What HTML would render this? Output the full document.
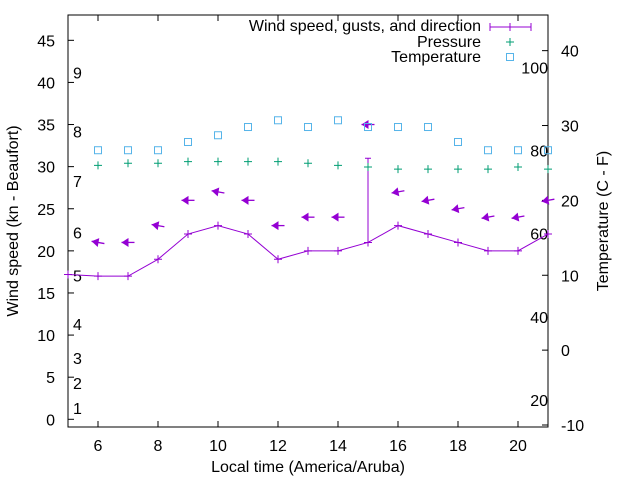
<!DOCTYPE html>
<html><head><meta charset="utf-8"><style>
html,body{margin:0;padding:0;background:#fff}
svg{display:block;font-family:"Liberation Sans",sans-serif}
</style></head><body>
<svg id="chart" width="640" height="480" viewBox="0 0 640 480">
<rect x="0" y="0" width="640" height="480" fill="#fff"/>
<g id="grid"></g>
<rect x="68" y="15" width="480" height="412" fill="none" stroke="#000" stroke-width="1"/>
<text x="0" y="0" transform="translate(18,221) rotate(-90)" text-anchor="middle" font-size="16">Wind speed (kn - Beaufort)</text>
<text x="0" y="0" transform="translate(608,221) rotate(-90)" text-anchor="middle" font-size="16">Temperature (C - F)</text>
<text x="308" y="472" text-anchor="middle" font-size="16">Local time (America/Aruba)</text>
<g>
<text x="481" y="31" text-anchor="end" font-size="16">Wind speed, gusts, and direction</text>
<line x1="490" y1="27" x2="531" y2="27" stroke="#9400d3"/>
<path d="M490 23V31M531 23V31M510 23V31" stroke="#9400d3"/>
<text x="481" y="47" text-anchor="end" font-size="16">Pressure</text>
<path d="M506 42H514M510 38V46" stroke="#009e73"/>
<text x="481" y="62" text-anchor="end" font-size="16">Temperature</text>
<rect x="506.5" y="53.5" width="7" height="7" fill="none" stroke="#56b4e9"/>
</g>
<g id="marks"></g>
</svg>
<script>
const hours = [5,6,7,8,9,10,11,12,13,14,15,16,17,18,19,20,21];
const windSpeed = [17.2,17,17,19,22,23,22,19,20,20,21,23,22,21,20,20,22];
const windGust = [17.2,17,17,19,22,23,22,19,20,20,31,23,22,21,20,20,22];
const windDir = [null,100,90,100,90,100,90,90,90,90,90,80,80,80,80,80,80];
const pressure = [null,30.15,30.4,30.4,30.6,30.6,30.6,30.6,30.4,30.15,29.95,29.7,29.7,29.7,29.7,29.95,29.7];
const tempC = [null,26.7,26.7,26.7,27.8,28.7,29.8,30.7,29.8,30.7,29.8,29.8,29.8,27.8,26.7,26.7,26.7];
const xTicks = [6,8,10,12,14,16,18,20];
const yTicks = [0,5,10,15,20,25,30,35,40,45];
const y2Ticks = [-10,0,10,20,30,40];
const fLabels = [20,40,60,80,100];
const beaufortNums = [1,2,3,4,5,6,7,8,9];
const beaufortPos = [1.35,4.3,7.3,11.3,17.1,22.2,28.3,34.2,41.2];

const NS='http://www.w3.org/2000/svg';
const X0=68,X1=548,Y0=427,Y1=15;
const xs=v=>X0+(v-5)/(21-5)*(X1-X0);
const ys=v=>419.3-v*8.422;
const y2s=v=>425-(v+10)*7.487;
const marks=document.getElementById('marks');
const grid=document.getElementById('grid');
function mk(tag,attrs,parent){const e=document.createElementNS(NS,tag);for(const k in attrs)e.setAttribute(k,attrs[k]);(parent||marks).appendChild(e);return e;}

xTicks.forEach(t=>{
  const x=xs(t);
  const g=mk('path',{d:`M${x} ${Y0}V${Y0-6}M${x} ${Y1}V${Y1+6}`,stroke:'#000'},grid);
  
  
  const l=mk('text',{x:x,y:451,'text-anchor':'middle','font-size':16},grid);
  l.textContent=t;
  
  
});
yTicks.forEach(t=>{
  const y=ys(t);
  const g=mk('path',{d:`M${X0} ${y}H${X0+6}`,stroke:'#000'},grid);
  
  
  const l=mk('text',{x:55,y:y+6,'text-anchor':'end','font-size':16},grid);
  l.textContent=t;
  
  
});
y2Ticks.forEach(t=>{
  const y=y2s(t);
  const g=mk('path',{d:`M${X1} ${y}H${X1-6}`,stroke:'#000'},grid);
  
  
  const l=mk('text',{x:561,y:y+6,'text-anchor':'start','font-size':16},grid);
  l.textContent=t;
  
  
});
fLabels.forEach(f=>{
  const l=mk('text',{x:548,y:y2s((f-32)*5/9)+6,'text-anchor':'end','font-size':16},grid);
  l.textContent=f;
  
  
});
beaufortNums.forEach((b,i)=>{
  const l=mk('text',{x:73,y:ys(beaufortPos[i])+6,'font-size':16},grid);
  l.textContent=b;
  
  
});

const pts=hours.map((h,i)=>xs(h)+','+ys(windSpeed[i])).join(' ');
const pl=mk('polyline',{points:pts,fill:'none',stroke:'#9400d3','stroke-width':1});


hours.forEach((h,i)=>{
  const x=xs(h),y=ys(windSpeed[i]);
  const p=mk('path',{d:`M${x-4} ${y}H${x+4}M${x} ${y-4}V${y+4}`,stroke:'#9400d3'});
  
  
  if(windGust[i]>windSpeed[i]){
    const gy=ys(windGust[i]);
    const g=mk('path',{d:`M${x} ${y}V${gy}M${x-3} ${gy}H${x+3}`,stroke:'#9400d3'});
    
    
  }
  if(windDir[i]==null)return;
  const ay=ys(Math.max(windSpeed[i],windGust[i])+4);
  const to=(windDir[i]+180)*Math.PI/180;
  const dx=Math.sin(to),dy=-Math.cos(to);
  const L=13;
  const headX=x+dx*L/2, headY=ay+dy*L/2, tailX=x-dx*L/2, tailY=ay-dy*L/2;
  const a=mk('line',{x1:tailX,y1:tailY,x2:headX,y2:headY,stroke:'#9400d3','stroke-width':1.3});
  
  
  const px=-dy,py=dx;
  const bx=headX-dx*7,by=headY-dy*7;
  const hd=mk('polygon',{points:`${headX},${headY} ${bx+px*4.5},${by+py*4.5} ${bx-px*4.5},${by-py*4.5}`,fill:'#9400d3'});
  
  
});
hours.forEach((h,i)=>{
  if(pressure[i]==null)return;
  const x=xs(h),y=ys(pressure[i]);
  const p=mk('path',{d:`M${x-4} ${y}H${x+4}M${x} ${y-4}V${y+4}`,stroke:'#009e73'});
  
  
});
hours.forEach((h,i)=>{
  if(tempC[i]==null)return;
  const x=xs(h),y=y2s(tempC[i]);
  const r=mk('rect',{x:x-3.5,y:y-3.5,width:7,height:7,fill:'none',stroke:'#56b4e9'});
  
  
});
</script>
</body></html>
